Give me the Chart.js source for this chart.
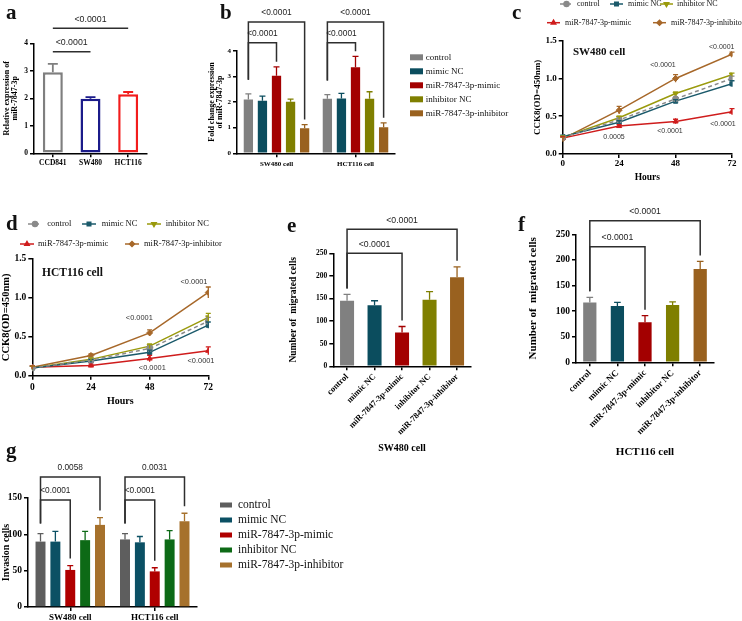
<!DOCTYPE html>
<html>
<head>
<meta charset="utf-8">
<script src="https://cdn.jsdelivr.net/npm/chart.js@4.4.1/dist/chart.umd.min.js"></script>
<style>
  body { margin: 0; background: #fff; }
  #page { position: relative; width: 742px; height: 621px; overflow: hidden; background: #fff; }
  canvas { position: absolute; }
</style>
</head>
<body>
<div id="page"></div>
<script>
// ---- data ----
const groups = ['control', 'mimic NC', 'miR-7847-3p-mimic', 'inhibitor NC', 'miR-7847-3p-inhibitor'];
const cells = ['SW480 cell', 'HCT116 cell'];

// a: relative expression of miR-7847-3p
const aLabels = ['CCD841', 'SW480', 'HCT116'];
const aMean = [2.95, 1.98, 2.15];
const aErr = [0.30, 0.06, 0.08];

// b: fold change after transfection (order = groups)
const bSW480 = [2.10, 2.05, 3.02, 2.01, 0.98];
const bSW480Err = [0.22, 0.18, 0.35, 0.10, 0.14];
const bHCT116 = [2.13, 2.14, 3.35, 2.13, 1.02];
const bHCT116Err = [0.16, 0.20, 0.43, 0.27, 0.17];

// c, d: CCK8 curves
const hours = [0, 24, 48, 72];
const cControl = [0.22, 0.45, 0.73, 1.00];
const cMimicNC = [0.23, 0.42, 0.70, 0.93];
const cInhNC = [0.22, 0.48, 0.80, 1.05];
const cMimic = [0.21, 0.37, 0.43, 0.56];
const cInh = [0.20, 0.58, 1.00, 1.32];
const cControlErr = [0.02, 0.02, 0.02, 0.03];
const cMimicNCErr = [0.02, 0.02, 0.02, 0.04];
const cInhNCErr = [0.02, 0.02, 0.02, 0.02];
const cMimicErr = [0.02, 0.02, 0.03, 0.04];
const cInhErr = [0.02, 0.05, 0.05, 0.03];

const dControl = [0.10, 0.20, 0.35, 0.70];
const dMimicNC = [0.10, 0.19, 0.30, 0.65];
const dInhNC = [0.10, 0.21, 0.38, 0.75];
const dMimic = [0.11, 0.13, 0.22, 0.32];
const dInh = [0.11, 0.26, 0.55, 1.07];
const dControlErr = [0.02, 0.02, 0.03, 0.05];
const dMimicNCErr = [0.02, 0.02, 0.03, 0.04];
const dInhNCErr = [0.02, 0.02, 0.03, 0.05];
const dMimicErr = [0.02, 0.02, 0.04, 0.05];
const dInhErr = [0.02, 0.02, 0.04, 0.07];

// e, f: migrated cells (order = groups)
const eCounts = [145, 135, 75, 147, 197];
const eErr = [14, 10, 13, 18, 23];
const fCounts = [117, 110, 78, 112, 182];
const fErr = [10, 7, 13, 6, 15];

// g: invasion cells (order = groups)
const gSW480 = [90, 90, 51, 92, 113];
const gSW480Err = [11, 14, 6, 12, 10];
const gHCT116 = [93, 89, 49, 93, 118];
const gHCT116Err = [8, 8, 5, 12, 11];

// ---- look ----
const SERIF = '"Liberation Serif", "Times New Roman", serif';
const SANS = '"Liberation Sans", Arial, sans-serif';
const aColors = ['#7f7f7f', '#1b1b8a', '#f21c1c'];
const barColors = ['#808080', '#0b4d5e', '#a30000', '#7f7f00', '#99611f'];
const gColors = ['#5e5e5e', '#0b5064', '#b00000', '#0d6a16', '#a6712c'];
// line order: control, mimic NC, inhibitor NC, mimic, inhibitor
const lineNames = [groups[0], groups[1], groups[3], groups[2], groups[4]];
const lineColors = ['#8a8a8a', '#1b5a6b', '#9a9a0c', '#cf1c1c', '#a7682a'];
const lineStyles = [
    { pointStyle: 'circle', dash: [4, 3], rot: 0 },
    { pointStyle: 'rect', dash: [], rot: 0 },
    { pointStyle: 'triangle', dash: [], rot: 180 },
    { pointStyle: 'triangle', dash: [], rot: 0 },
    { pointStyle: 'rectRot', dash: [], rot: 0 }
];

const page = document.getElementById('page');

function bold(size) {
    return { family: SERIF, size: size, weight: 'bold', lineHeight: 1.05 };
}

function valueOf(ds, i) {
    const d = ds.data[i];
    return typeof d === 'object' ? d.y : d;
}

function colorOf(ds, i) {
    const c = ds.errColor || ds.backgroundColor;
    return Array.isArray(c) ? c[i] : c;
}

// error bars, significance brackets, free texts and legends
const extras = {
    id: 'extras',
    afterDatasetsDraw(chart, args, o) {
        const ctx = chart.ctx;
        const ys = chart.scales.y;
        ctx.save();

        // error bars
        chart.data.datasets.forEach(function(ds, di) {
            if (!ds.err) return;
            const meta = chart.getDatasetMeta(di);
            meta.data.forEach(function(el, i) {
                const v = valueOf(ds, i);
                const top = ys.getPixelForValue(v + ds.err[i]);
                const bot = o.upOnly ? el.y : ys.getPixelForValue(v - ds.err[i]);
                const cap = o.upOnly ? Math.max(6, el.width * 0.5) : 5;
                ctx.strokeStyle = colorOf(ds, i);
                ctx.lineWidth = o.errWidth || 1.3;
                ctx.setLineDash([]);
                ctx.beginPath();
                ctx.moveTo(el.x, bot);
                ctx.lineTo(el.x, top);
                ctx.moveTo(el.x - cap / 2, top);
                ctx.lineTo(el.x + cap / 2, top);
                ctx.stroke();
            });
        });

        // brackets
        (o.brackets || []).forEach(function(b) {
            const elA = chart.getDatasetMeta(b.a[0]).data[b.a[1]];
            const elB = chart.getDatasetMeta(b.b[0]).data[b.b[1]];
            const dsA = chart.data.datasets[b.a[0]], dsB = chart.data.datasets[b.b[0]];
            const yl = ys.getPixelForValue(b.v);
            const gap = o.gap || 6;
            const gapA = o.gapA || gap;
            ctx.strokeStyle = '#2e2e2e';
            ctx.lineWidth = 1.5;
            ctx.beginPath();
            if (b.ticks === false) {
                ctx.moveTo(elA.x, yl);
                ctx.lineTo(elB.x, yl);
            } else {
                const ya = ys.getPixelForValue(valueOf(dsA, b.a[1]) + dsA.err[b.a[1]]) - gapA;
                const yb = ys.getPixelForValue(valueOf(dsB, b.b[1]) + dsB.err[b.b[1]]) - gap;
                ctx.moveTo(elA.x, ya);
                ctx.lineTo(elA.x, yl);
                ctx.lineTo(elB.x, yl);
                ctx.lineTo(elB.x, yb);
            }
            ctx.stroke();
            ctx.fillStyle = '#222';
            ctx.font = o.pFont;
            ctx.textAlign = 'center';
            ctx.textBaseline = 'middle';
            ctx.fillText(b.text, (elA.x + elB.x) / 2, yl - 9);
        });

        // free texts (page coordinates)
        (o.texts || []).forEach(function(t) {
            ctx.fillStyle = t.c || '#111';
            ctx.font = t.f;
            ctx.textAlign = t.al || 'left';
            ctx.textBaseline = 'middle';
            ctx.fillText(t.t, t.x - o.ox, t.y - o.oy);
        });

        // legends
        if (o.legend) {
            const L = o.legend;
            L.items.forEach(function(it) {
                const ds = chart.data.datasets[it.di];
                const x = it.x - o.ox, y = it.y - o.oy;
                if (L.type === 'box') {
                    ctx.fillStyle = ds.backgroundColor;
                    ctx.fillRect(x, y - L.bh / 2, L.bw, L.bh);
                } else {
                    ctx.strokeStyle = ds.borderColor;
                    ctx.lineWidth = 1.5;
                    ctx.setLineDash(ds.borderDash || []);
                    ctx.beginPath();
                    ctx.moveTo(x, y);
                    ctx.lineTo(x + L.lw, y);
                    ctx.stroke();
                    ctx.setLineDash([]);
                    ctx.fillStyle = ds.borderColor;
                    Chart.helpers.drawPoint(ctx, {
                        pointStyle: ds.pointStyle, rotation: ds.pointRotation || 0,
                        radius: 2.5, borderWidth: 1
                    }, x + L.lw / 2, y);
                }
                ctx.fillStyle = '#111';
                ctx.font = L.font;
                ctx.textAlign = 'left';
                ctx.textBaseline = 'middle';
                ctx.fillText(ds.label, it.tx - o.ox, y);
            });
        }
        ctx.restore();
    }
};

function makeCanvas(box) {
    const c = document.createElement('canvas');
    c.width = box.w;
    c.height = box.h;
    c.style.left = box.x + 'px';
    c.style.top = box.y + 'px';
    page.appendChild(c);
    return c;
}

function axis(extra) {
    return Object.assign({
        border: { display: true, color: '#000', width: 1.5 },
        grid: { display: true, drawOnChartArea: false, drawTicks: true, tickLength: 4,
                color: '#000', lineWidth: 1.5, offset: false }
    }, extra);
}

// build one panel: the plot area lands on the given page rectangle
function panel(box, plot, type, data, xOpts, yOpts, extraOpts) {
    const canvas = makeCanvas(box);
    xOpts.afterFit = function(s) { s.height = box.y + box.h - plot.b; };
    yOpts.afterFit = function(s) { s.width = plot.l - box.x; };
    extraOpts.ox = box.x;
    extraOpts.oy = box.y;
    return new Chart(canvas, {
        type: type,
        data: data,
        options: {
            responsive: false,
            animation: false,
            devicePixelRatio: 1,
            layout: { padding: { left: 0, bottom: 0, top: plot.t - box.y, right: box.x + box.w - plot.r } },
            scales: { x: xOpts, y: yOpts },
            plugins: { legend: { display: false }, tooltip: { enabled: false }, extras: extraOpts }
        },
        plugins: [extras]
    });
}

function yTitle(text, pageX, boxX, size) {
    return { display: true, text: text, color: '#000', font: bold(size),
             padding: { top: Math.max(0, pageX - boxX - size * 0.525), bottom: 0 } };
}

function xTitle(text, pageY, boxBottom, size) {
    return { display: true, text: text, color: '#000', font: bold(size),
             padding: { top: 0, bottom: Math.max(0, boxBottom - pageY - size * 0.525) } };
}

function groupedSets(first, firstErr, second, secondErr, colors, catPct, barPct) {
    return groups.map(function(g, i) {
        return {
            label: g,
            data: [first[i], second[i]],
            err: [firstErr[i], secondErr[i]],
            backgroundColor: colors[i],
            categoryPercentage: catPct,
            barPercentage: barPct
        };
    });
}

function lineSets(series, errs) {
    return series.map(function(s, i) {
        return {
            label: lineNames[i],
            data: hours.map(function(h, j) { return { x: h, y: s[j] }; }),
            err: errs[i],
            borderColor: lineColors[i],
            backgroundColor: lineColors[i],
            borderWidth: 1.5,
            borderDash: lineStyles[i].dash,
            pointStyle: lineStyles[i].pointStyle,
            pointRotation: lineStyles[i].rot,
            pointRadius: 3,
            pointBorderWidth: 1,
            tension: 0
        };
    });
}

const P = function(size) { return size + 'px ' + SANS; };
const B = function(size) { return 'bold ' + size + 'px ' + SERIF; };
const R = function(size) { return size + 'px ' + SERIF; };

// ---- a ----
(function() {
    const box = { x: 0, y: 0, w: 165, h: 200 };
    panel(box, { l: 34, t: 43.3, r: 147, b: 153.3 }, 'bar',
        { labels: aLabels, datasets: [{
            data: aMean, err: aErr, backgroundColor: '#fff', errColor: aColors,
            borderColor: aColors, borderWidth: 2.5, borderSkipped: false,
            categoryPercentage: 1, barPercentage: 0.53 }] },
        axis({ ticks: { color: '#000', font: bold(7.5), padding: 2 } }),
        axis({ min: 0, max: 4, ticks: { stepSize: 1, color: '#000', font: bold(7.5), padding: 2 },
               title: yTitle(['Relative expression of', 'miR-7847-3p'], 7, 0, 8) }),
        { upOnly: true, errWidth: 1.8, pFont: P(8.8),
          brackets: [
            { a: [0, 0], b: [0, 2], v: 4.545, text: '<0.0001', ticks: false },
            { a: [0, 0], b: [0, 1], v: 3.695, text: '<0.0001', ticks: false }
          ],
          texts: [{ t: 'a', x: 6, y: 14, f: B(21) }] });
})();

// ---- b ----
(function() {
    const box = { x: 165, y: 0, w: 350, h: 200 };
    const legendItems = groups.map(function(g, i) {
        return { di: i, x: 410, tx: 425.7, y: 57.3 + i * 14 };
    });
    panel(box, { l: 237, t: 50.7, r: 395, b: 153.3 }, 'bar',
        { labels: cells, datasets: groupedSets(bSW480, bSW480Err, bHCT116, bHCT116Err, barColors, 0.89, 0.66) },
        axis({ ticks: { color: '#000', font: bold(7), padding: 3 } }),
        axis({ min: 0, max: 4, ticks: { stepSize: 1, color: '#000', font: bold(7), padding: 2 },
               title: yTitle(['Fold change expression', 'of miR-7847-3p'], 211.7, 165, 8) }),
        { upOnly: true, pFont: P(8.4), gap: 5, gapA: 14,
          brackets: [
            { a: [0, 0], b: [4, 0], v: 5.12, text: '<0.0001' },
            { a: [0, 0], b: [2, 0], v: 4.31, text: '<0.0001' },
            { a: [0, 1], b: [4, 1], v: 5.12, text: '<0.0001' },
            { a: [0, 1], b: [2, 1], v: 4.31, text: '<0.0001' }
          ],
          legend: { type: 'box', bw: 13, bh: 6, font: R(9), items: legendItems },
          texts: [{ t: 'b', x: 220, y: 14, f: B(21) }] });
})();

// ---- c ----
(function() {
    const box = { x: 505, y: 0, w: 237, h: 190 };
    panel(box, { l: 562.7, t: 40.7, r: 732, b: 154 }, 'line',
        { datasets: lineSets([cControl, cMimicNC, cInhNC, cMimic, cInh],
                             [cControlErr, cMimicNCErr, cInhNCErr, cMimicErr, cInhErr]) },
        axis({ type: 'linear', min: 0, max: 72, ticks: { stepSize: 24, color: '#000', font: bold(9), padding: 1 },
               title: xTitle('Hours', 177.7, 190, 9.5) }),
        axis({ min: 0, max: 1.5, ticks: { stepSize: 0.5, color: '#000', font: bold(9), padding: 2,
                                           callback: function(v) { return v.toFixed(1); } },
               title: yTitle('CCK8(OD=450nm)', 538, 505, 9) }),
        { pFont: P(7),
          legend: { type: 'line', lw: 13, font: R(8), items: [
            { di: 0, x: 560, tx: 577, y: 4 },
            { di: 1, x: 610, tx: 628, y: 4 },
            { di: 2, x: 660, tx: 677, y: 4 },
            { di: 3, x: 547, tx: 565, y: 22.7 },
            { di: 4, x: 653, tx: 671, y: 22.7 }
          ] },
          texts: [
            { t: 'c', x: 512, y: 14, f: B(21) },
            { t: 'SW480 cell', x: 573, y: 51.7, f: B(11) },
            { t: '<0.0001', x: 721.7, y: 46.7, f: P(7), al: 'center', c: '#333' },
            { t: '<0.0001', x: 663, y: 65, f: P(7), al: 'center', c: '#333' },
            { t: '0.0005', x: 614, y: 136.7, f: P(7), al: 'center', c: '#333' },
            { t: '<0.0001', x: 670, y: 131, f: P(7), al: 'center', c: '#333' },
            { t: '<0.0001', x: 723, y: 124.3, f: P(7), al: 'center', c: '#333' }
          ] });
})();

// ---- d ----
(function() {
    const box = { x: 0, y: 205, w: 250, h: 205 };
    panel(box, { l: 32.3, t: 259, r: 208.3, b: 375.7 }, 'line',
        { datasets: lineSets([dControl, dMimicNC, dInhNC, dMimic, dInh],
                             [dControlErr, dMimicNCErr, dInhNCErr, dMimicErr, dInhErr]) },
        axis({ type: 'linear', min: 0, max: 72, ticks: { stepSize: 24, color: '#000', font: bold(9.5), padding: 3 },
               title: xTitle('Hours', 401.7, 410, 10) }),
        axis({ min: 0, max: 1.5, ticks: { stepSize: 0.5, color: '#000', font: bold(9.5), padding: 2,
                                           callback: function(v) { return v.toFixed(1); } },
               title: yTitle('CCK8(OD=450nm)', 6, 0, 10.5) }),
        { pFont: P(7.4),
          legend: { type: 'line', lw: 14, font: R(8.5), items: [
            { di: 0, x: 28, tx: 47.3, y: 224 },
            { di: 1, x: 82, tx: 101.7, y: 224 },
            { di: 2, x: 147, tx: 165.7, y: 224 },
            { di: 3, x: 20, tx: 38, y: 244 },
            { di: 4, x: 125, tx: 144, y: 244 }
          ] },
          texts: [
            { t: 'd', x: 6, y: 225, f: B(21) },
            { t: 'HCT116 cell', x: 42, y: 272.7, f: B(11.5) },
            { t: '<0.0001', x: 194, y: 281.7, f: P(7.4), al: 'center', c: '#333' },
            { t: '<0.0001', x: 139.3, y: 317.7, f: P(7.4), al: 'center', c: '#333' },
            { t: '<0.0001', x: 152.3, y: 368.3, f: P(7.4), al: 'center', c: '#333' },
            { t: '<0.0001', x: 201, y: 360.7, f: P(7.4), al: 'center', c: '#333' }
          ] });
})();

// ---- e ----
(function() {
    const box = { x: 255, y: 205, w: 245, h: 255 };
    panel(box, { l: 333.3, t: 253.3, r: 470.8, b: 366.3 }, 'bar',
        { labels: groups, datasets: [{ data: eCounts, err: eErr, backgroundColor: barColors,
                                       categoryPercentage: 1, barPercentage: 0.51 }] },
        axis({ ticks: { color: '#000', font: bold(8.5), padding: 2, minRotation: 45, maxRotation: 45, autoSkip: false },
               title: xTitle('SW480 cell', 448.3, 460, 10) }),
        axis({ min: 0, max: 250, ticks: { stepSize: 50, color: '#000', font: bold(7.5), padding: 2 },
               title: yTitle('Number of  migrated cells', 293.3, 255, 9.5) }),
        { upOnly: true, pFont: P(8.7), gap: 6,
          brackets: [
            { a: [0, 0], b: [0, 4], v: 303, text: '<0.0001' },
            { a: [0, 0], b: [0, 2], v: 250, text: '<0.0001' }
          ],
          texts: [{ t: 'e', x: 287, y: 227, f: B(21) }] });
})();

// ---- f ----
(function() {
    const box = { x: 505, y: 200, w: 237, h: 260 };
    panel(box, { l: 576, t: 234.3, r: 714, b: 362.3 }, 'bar',
        { labels: groups, datasets: [{ data: fCounts, err: fErr, backgroundColor: barColors,
                                       categoryPercentage: 1, barPercentage: 0.48 }] },
        axis({ ticks: { color: '#000', font: bold(9), padding: 2, minRotation: 45, maxRotation: 45, autoSkip: false },
               title: xTitle('HCT116 cell', 452, 460, 11) }),
        axis({ min: 0, max: 250, ticks: { stepSize: 50, color: '#000', font: bold(9.5), padding: 2 },
               title: yTitle('Number of  migrated cells', 533.3, 505, 11) }),
        { upOnly: true, pFont: P(8.7), gap: 6,
          brackets: [
            { a: [0, 0], b: [0, 4], v: 276.6, text: '<0.0001' },
            { a: [0, 0], b: [0, 2], v: 225.8, text: '<0.0001' }
          ],
          texts: [{ t: 'f', x: 518, y: 226, f: B(21) }] });
})();

// ---- g ----
(function() {
    const box = { x: 0, y: 440, w: 380, h: 181 };
    const legendItems = groups.map(function(g, i) {
        return { di: i, x: 220, tx: 238, y: 505 + i * 15 };
    });
    panel(box, { l: 28, t: 498, r: 197, b: 607 }, 'bar',
        { labels: cells, datasets: groupedSets(gSW480, gSW480Err, gHCT116, gHCT116Err, gColors, 0.88, 0.67) },
        axis({ ticks: { color: '#000', font: bold(9), padding: 2 } }),
        axis({ min: 0, max: 150, ticks: { stepSize: 50, color: '#000', font: bold(9.5), padding: 2 },
               title: yTitle('Invasion cells', 6, 0, 10) }),
        { upOnly: true, pFont: P(8.3), gap: 7, gapA: 10,
          brackets: [
            { a: [0, 0], b: [4, 0], v: 178.9, text: '0.0058' },
            { a: [0, 0], b: [2, 0], v: 147.2, text: '<0.0001' },
            { a: [0, 1], b: [4, 1], v: 178.9, text: '0.0031' },
            { a: [0, 1], b: [2, 1], v: 147.2, text: '<0.0001' }
          ],
          legend: { type: 'box', bw: 12, bh: 5, font: R(11.5), items: legendItems },
          texts: [{ t: 'g', x: 6, y: 452, f: B(21) }] });
})();
</script>
</body>
</html>
